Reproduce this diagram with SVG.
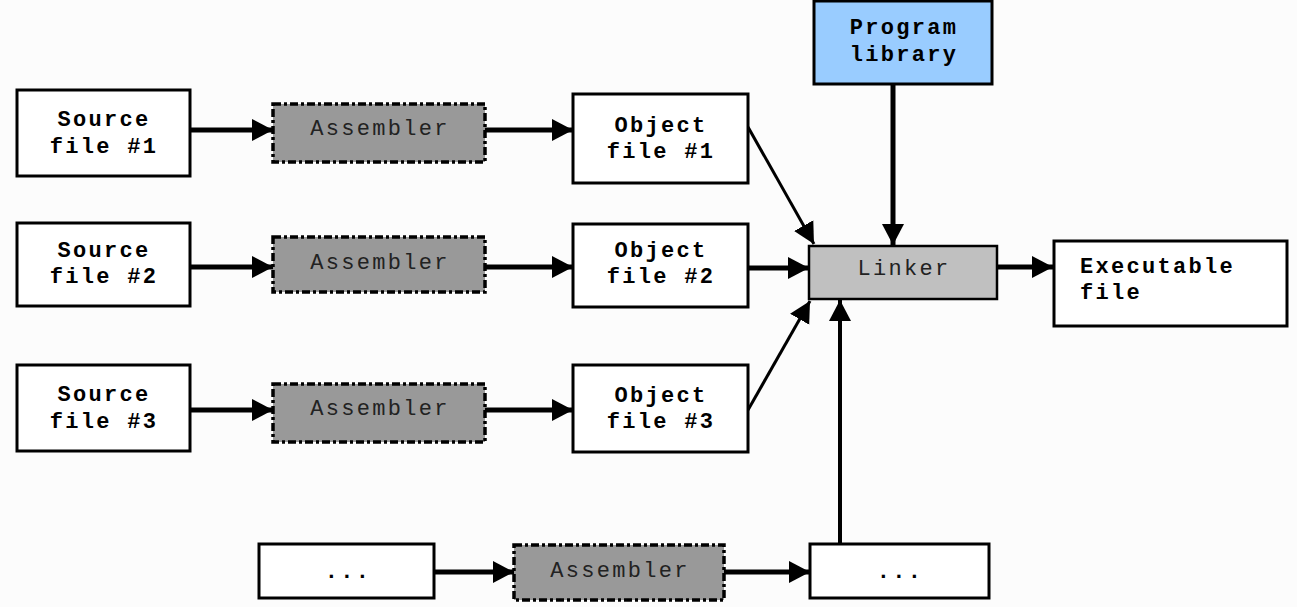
<svg xmlns="http://www.w3.org/2000/svg" width="1297" height="607" viewBox="0 0 1297 607">
<style>
.box{fill:#ffffff;stroke:#000;stroke-width:3}
.asm{fill:#999999;stroke:#000;stroke-width:3.5;stroke-dasharray:8 3 3 3}
.lib{fill:#99ccff;stroke:#000;stroke-width:3}
.lnk{fill:#c0c0c0;stroke:#000;stroke-width:2.5}
.t{font-family:"Liberation Mono",monospace;font-size:22px;letter-spacing:2.3px;font-weight:bold;fill:#000}
.ta{font-family:"Liberation Mono",monospace;font-size:22px;letter-spacing:2.3px;fill:#222}
.c{stroke:#000;stroke-width:5;fill:none}
.thin{stroke:#000;stroke-width:3;fill:none}
</style>
<defs>
<marker id="ah" markerUnits="userSpaceOnUse" markerWidth="22" markerHeight="24" viewBox="0 0 22 24" refX="21" refY="12" orient="auto">
<path d="M0,1 L21,12 L0,23 Z" fill="#000"/>
</marker>
</defs>
<rect width="1297" height="607" fill="#fcfcfc"/>
<g id="connectors">
<line class="c" x1="190" y1="130" x2="273" y2="130" marker-end="url(#ah)"/>
<line class="c" x1="485" y1="130" x2="573" y2="130" marker-end="url(#ah)"/>
<line class="c" x1="190" y1="267" x2="273" y2="267" marker-end="url(#ah)"/>
<line class="c" x1="485" y1="267" x2="573" y2="267" marker-end="url(#ah)"/>
<line class="c" x1="190" y1="410" x2="273" y2="410" marker-end="url(#ah)"/>
<line class="c" x1="485" y1="410" x2="573" y2="410" marker-end="url(#ah)"/>
<line class="c" x1="434" y1="572" x2="514" y2="572" marker-end="url(#ah)"/>
<line class="c" x1="724" y1="572" x2="810" y2="572" marker-end="url(#ah)"/>
<line class="thin" x1="748" y1="127" x2="814" y2="244" marker-end="url(#ah)"/>
<line class="c" x1="748" y1="268" x2="809" y2="268" marker-end="url(#ah)"/>
<line class="thin" x1="748" y1="410" x2="810" y2="301" marker-end="url(#ah)"/>
<line class="c" x1="893" y1="84" x2="893" y2="245" marker-end="url(#ah)"/>
<line class="thin" x1="840" y1="544" x2="840" y2="300" marker-end="url(#ah)" style="stroke-width:4"/>
<line class="c" x1="997" y1="267" x2="1053" y2="267" marker-end="url(#ah)"/>
</g>
<g id="source1"><rect class="box" x="17" y="90" width="173" height="86"/><text class="t" x="104" y="126" text-anchor="middle">Source</text><text class="t" x="104" y="153" text-anchor="middle">file #1</text></g>
<g id="source2"><rect class="box" x="17" y="223" width="173" height="83"/><text class="t" x="104" y="257" text-anchor="middle">Source</text><text class="t" x="104" y="283" text-anchor="middle">file #2</text></g>
<g id="source3"><rect class="box" x="17" y="365" width="173" height="86"/><text class="t" x="104" y="401" text-anchor="middle">Source</text><text class="t" x="104" y="428" text-anchor="middle">file #3</text></g>
<g id="assembler1"><rect class="asm" x="273" y="104" width="212" height="58"/><text class="ta" x="380" y="135" text-anchor="middle">Assembler</text></g>
<g id="assembler2"><rect class="asm" x="273" y="237" width="212" height="55"/><text class="ta" x="380" y="269" text-anchor="middle">Assembler</text></g>
<g id="assembler3"><rect class="asm" x="273" y="384" width="212" height="58"/><text class="ta" x="380" y="415" text-anchor="middle">Assembler</text></g>
<g id="assembler4"><rect class="asm" x="514" y="545" width="210" height="55"/><text class="ta" x="620" y="577" text-anchor="middle">Assembler</text></g>
<g id="object1"><rect class="box" x="573" y="94" width="175" height="89"/><text class="t" x="661" y="132" text-anchor="middle">Object</text><text class="t" x="661" y="158" text-anchor="middle">file #1</text></g>
<g id="object2"><rect class="box" x="573" y="224" width="175" height="83"/><text class="t" x="661" y="257" text-anchor="middle">Object</text><text class="t" x="661" y="283" text-anchor="middle">file #2</text></g>
<g id="object3"><rect class="box" x="573" y="365" width="175" height="87"/><text class="t" x="661" y="402" text-anchor="middle">Object</text><text class="t" x="661" y="428" text-anchor="middle">file #3</text></g>
<g id="dots1"><rect class="box" x="259" y="544" width="175" height="54"/><text class="t" x="348" y="578" text-anchor="middle">...</text></g>
<g id="dots2"><rect class="box" x="810" y="544" width="179" height="54"/><text class="t" x="900" y="578" text-anchor="middle">...</text></g>
<g id="library"><rect class="lib" x="814" y="1" width="178" height="83"/><text class="t" x="904" y="34" text-anchor="middle">Program</text><text class="t" x="904" y="61" text-anchor="middle">library</text></g>
<g id="linker"><rect class="lnk" x="809" y="246" width="188" height="53"/><text class="ta" x="904" y="275" text-anchor="middle">Linker</text></g>
<g id="executable"><rect class="box" x="1054" y="241" width="233" height="85"/><text class="t" x="1080" y="273">Executable</text><text class="t" x="1080" y="299">file</text></g>
</svg>
